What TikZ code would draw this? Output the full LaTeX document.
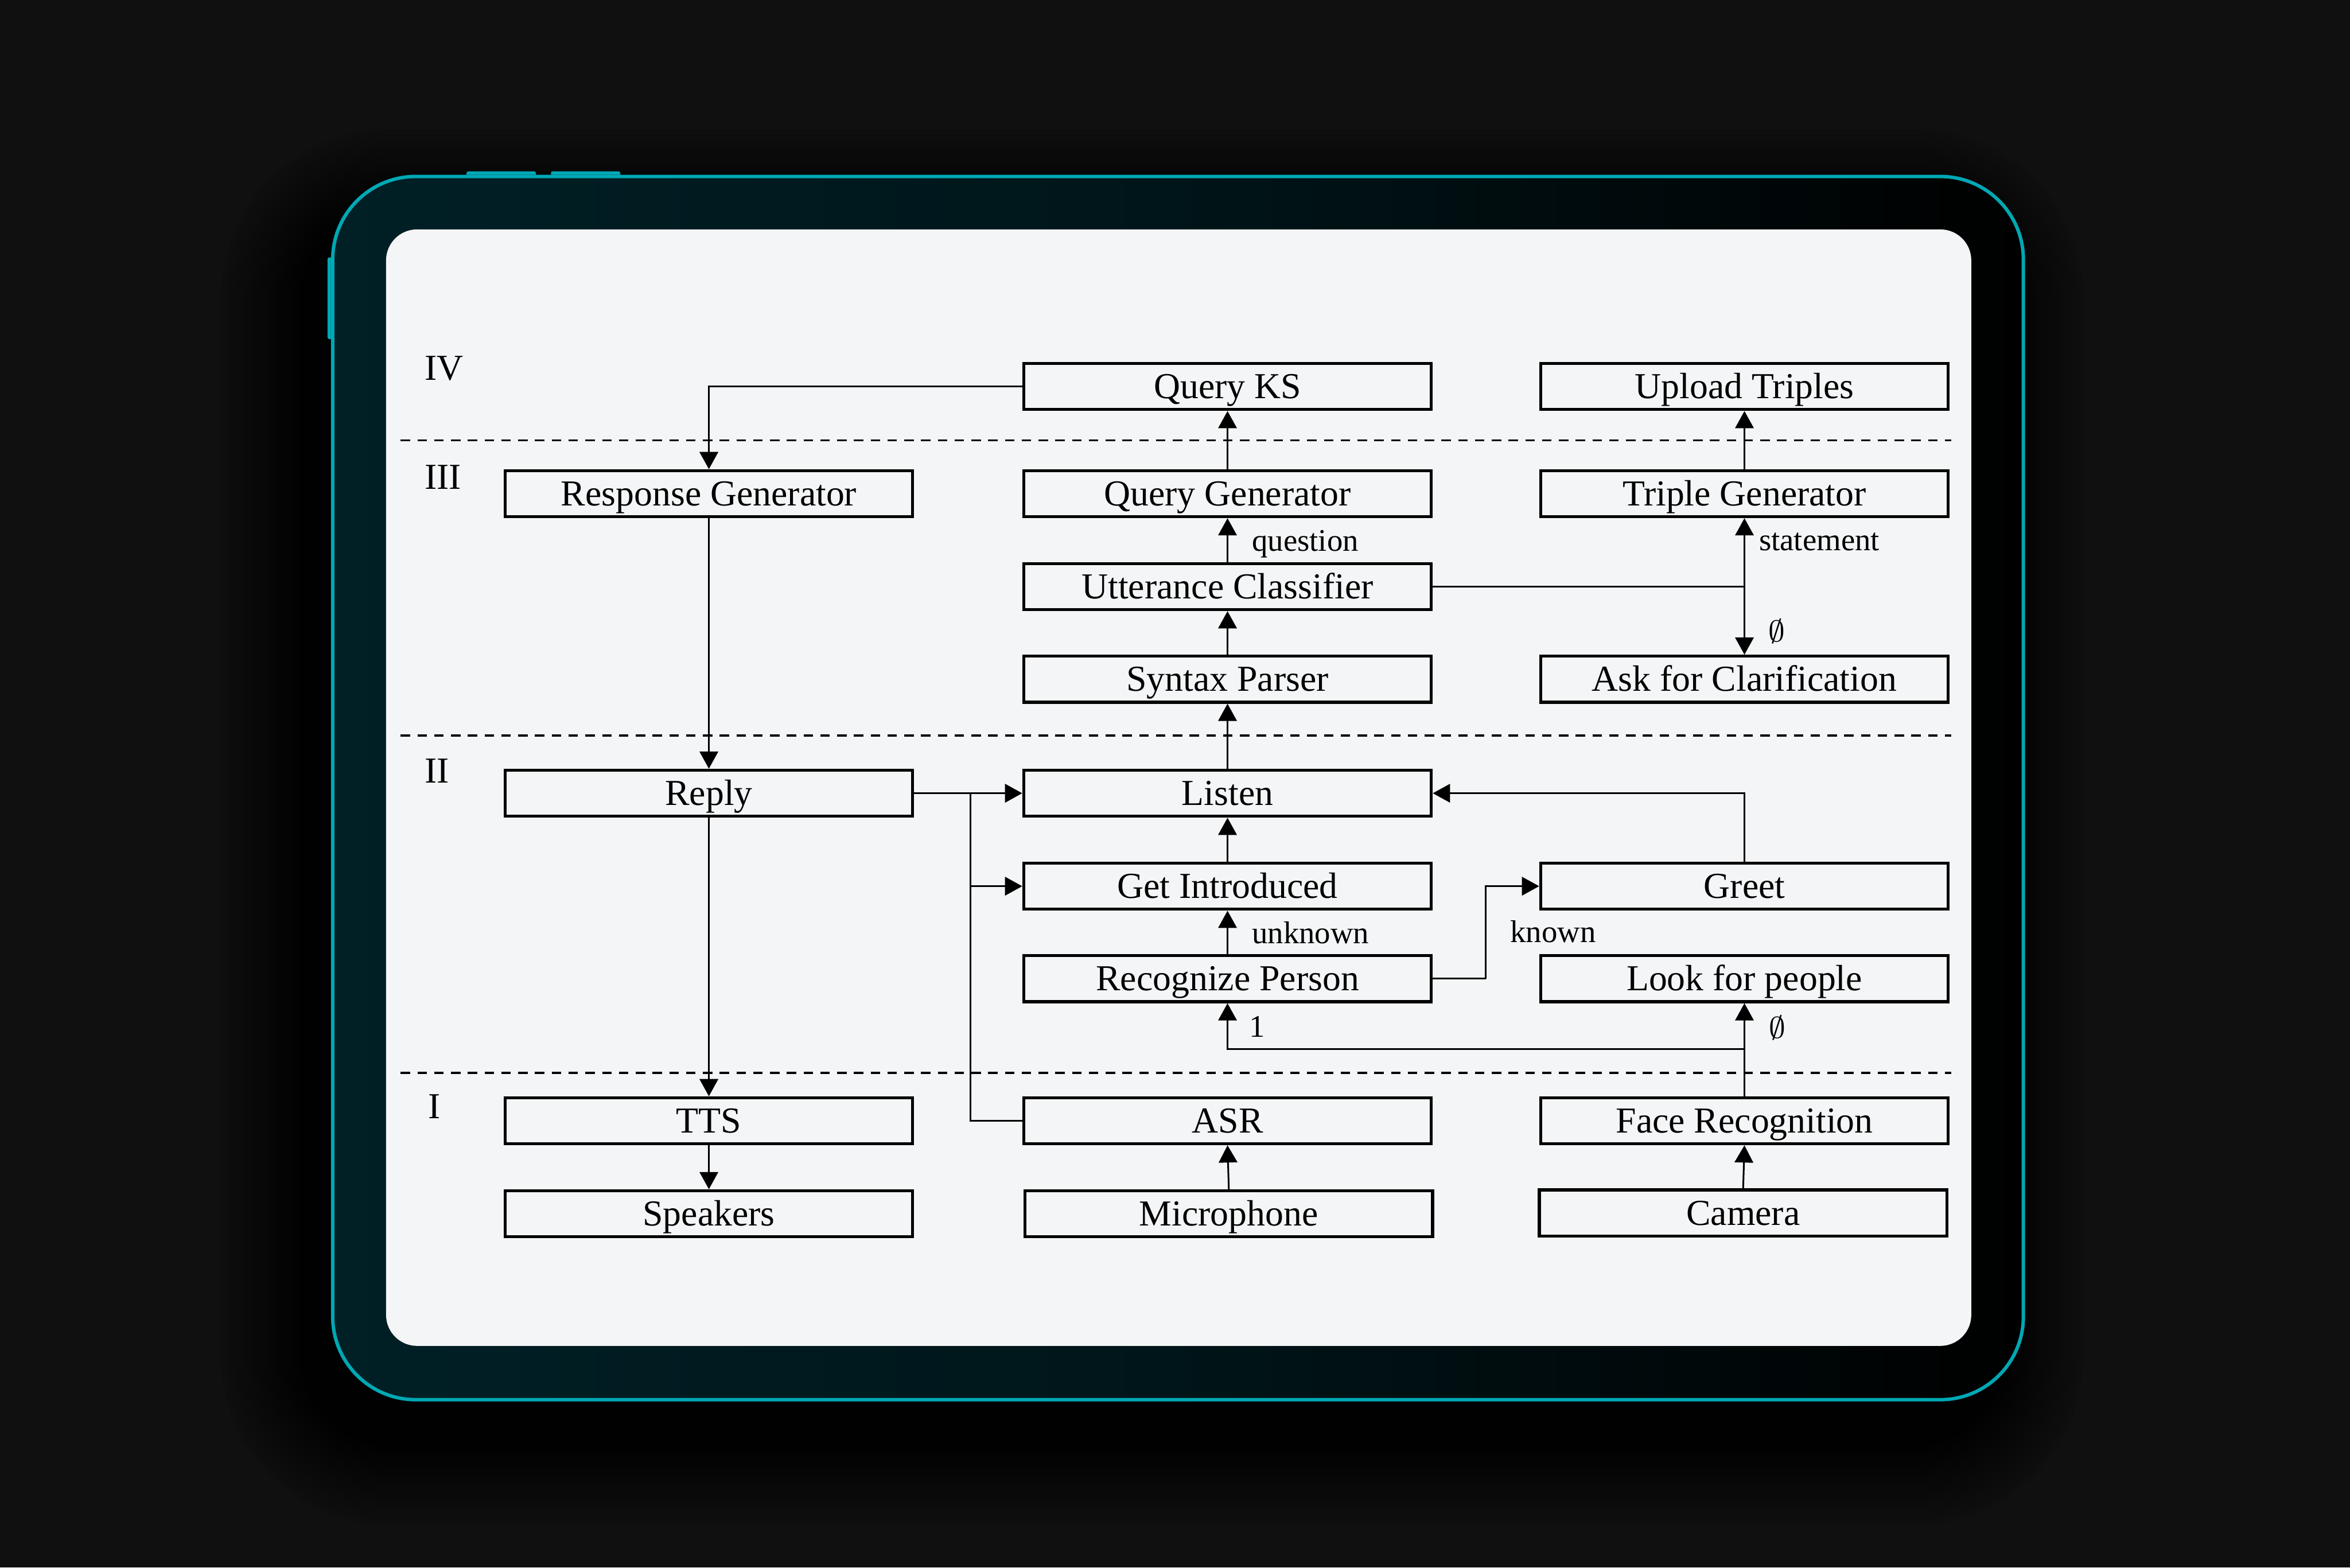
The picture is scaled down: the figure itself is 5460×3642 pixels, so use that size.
\documentclass[tikz,border=0pt]{standalone}
\usepackage{fontspec}
\setmainfont{Liberation Serif}
\usetikzlibrary{arrows.meta}
\definecolor{bgc}{RGB}{16,16,16}
\definecolor{cyanb}{RGB}{0,168,180}
\definecolor{bodyc}{RGB}{0,32,38}
\definecolor{scr}{RGB}{244,245,246}
\tikzset{
  box/.style={draw=black, line width=0.7pt, minimum width=94.7pt, minimum height=10.7pt,
    inner sep=0pt, font=\fontsize{8.5pt}{10pt}\selectfont, text height=5.6pt, text depth=0pt},
  conn/.style={line width=0.4pt},
  arr/.style={conn, -{Triangle[length=4pt,width=4.3pt]}},
  sepline/.style={line width=0.5pt, dash pattern=on 2.2pt off 1.7pt},
  lbl/.style={font=\fontsize{7.3pt}{9pt}\selectfont, inner sep=0pt, anchor=base west},
  layer/.style={font=\fontsize{8.5pt}{10pt}\selectfont, inner sep=0pt, anchor=base west},
  esym/.style={font=\fontsize{6.6pt}{8pt}\selectfont, inner sep=0pt},
}
\begin{document}
\begin{tikzpicture}[x=0.1pt,y=-0.1pt]
\useasboundingbox (0,0) rectangle (5460,3642);
\fill[bgc] (0,0) rectangle (5460,3642);
% shadow
\foreach \i in {1,...,14}{
  \pgfmathsetmacro\rr{(197+\i*14)*0.1}
  \fill[black,opacity=0.07,rounded corners=\rr pt] ({769-60-\i*14},{406+90-\i*14}) rectangle ({4705-60+\i*14},{3256+90+\i*14});
}
% buttons
\fill[cyanb, rounded corners=0.4pt] (1084,398) rectangle (1245,414);
\fill[cyanb, rounded corners=0.4pt] (1280,398) rectangle (1441,414);
\fill[cyanb, rounded corners=0.4pt] (761,598) rectangle (777,788);
% body
\shade[left color=bodyc, right color=black, middle color=bodyc!65!black, rounded corners=19.7pt] (769,406) rectangle (4705,3256);
\draw[cyanb, line width=0.8pt, rounded corners=19.3pt] (773,410) rectangle (4701,3252);
% screen
\fill[scr, rounded corners=7.2pt] (897,533) rectangle (4580,3127);

% layer separators
\draw[sepline] (931,1023) -- (4533,1023);
\draw[sepline] (931,1709) -- (4533,1709);
\draw[sepline] (931,2493) -- (4533,2493);

% layer labels
\node[layer] (l4) at (985,883) {IV};
\node[layer] (l3) at (985,1136) {III};
\node[layer] (l2) at (985,1819) {II};
\node[layer] (l1) at (993,2599) {I};

% boxes
\node[box] (qks) at (2852,898) {Query KS};
\node[box] (upt) at (4053,898) {Upload Triples};
\node[box] (rg) at (1647,1147) {Response Generator};
\node[box] (qg) at (2852,1147) {Query Generator};
\node[box] (tg) at (4053,1147) {Triple Generator};
\node[box] (uc) at (2852,1363) {Utterance Classifier};
\node[box] (sp) at (2852,1578) {Syntax Parser};
\node[box] (afc) at (4053,1578) {Ask for Clarification};
\node[box] (re) at (1647,1843) {Reply};
\node[box] (li) at (2852,1843) {Listen};
\node[box] (gi) at (2852,2059) {Get Introduced};
\node[box] (gr) at (4053,2059) {Greet};
\node[box] (rp) at (2852,2274) {Recognize Person};
\node[box] (lfp) at (4053,2274) {Look for people};
\node[box] (tts) at (1647,2604) {TTS};
\node[box] (asr) at (2852,2604) {ASR};
\node[box] (fr) at (4053,2604) {Face Recognition};
\node[box] (spk) at (1647,2820) {Speakers};
\node[box] (mic) at (2855,2820) {Microphone};
\node[box] (cam) at (4050,2818) {Camera};

% junctions
\coordinate (j1) at (tg.south |- uc.east);
\coordinate (bus) at (2255,1843);
\coordinate (knee) at (3452,2274);
\coordinate (j2) at (4053,2438);

% connectors
\draw[arr] (qks.west) -| (rg.north);
\draw[arr] (qg.north) -- (qks.south);
\draw[arr] (tg.north) -- (upt.south);
\draw[arr] (uc.north) -- (qg.south);
\draw[conn] (uc.east) -- (j1);
\draw[arr] (j1) -- (tg.south);
\draw[arr] (j1) -- (afc.north);
\draw[arr] (sp.north) -- (uc.south);
\draw[arr] (li.north) -- (sp.south);
\draw[arr] (rg.south) -- (re.north);
\draw[arr] (re.east) -- (li.west);
\draw[conn] (asr.west) -| (bus);
\draw[arr] (bus |- gi.west) -- (gi.west);
\draw[arr] (gi.north) -- (li.south);
\draw[arr] (gr.north) |- (li.east);
\draw[arr] (rp.north) -- (gi.south);
\draw[conn] (rp.east) -- (knee);
\draw[arr] (knee) |- (gr.west);
\draw[arr] (fr.north) -- (lfp.south);
\draw[arr] (j2) -| (rp.south);
\draw[arr] (mic.north) -- (asr.south);
\draw[arr] (cam.north) -- (fr.south);
\draw[arr] (re.south) -- (tts.north);
\draw[arr] (tts.south) -- (spk.north);

% edge labels
\node[lbl] (lq) at (2907,1280) {question};
\node[lbl] (ls) at (4085,1279) {statement};
\node[lbl] (lu) at (2907,2192) {unknown};
\node[lbl] (lk) at (3507,2190) {known};
\node[lbl] (lone) at (2901,2410) {1};
\node[esym] (e1) at (4128,1466) {$\emptyset$};
\node[esym] (e2) at (4130,2388) {$\emptyset$};
\end{tikzpicture}
\end{document}
